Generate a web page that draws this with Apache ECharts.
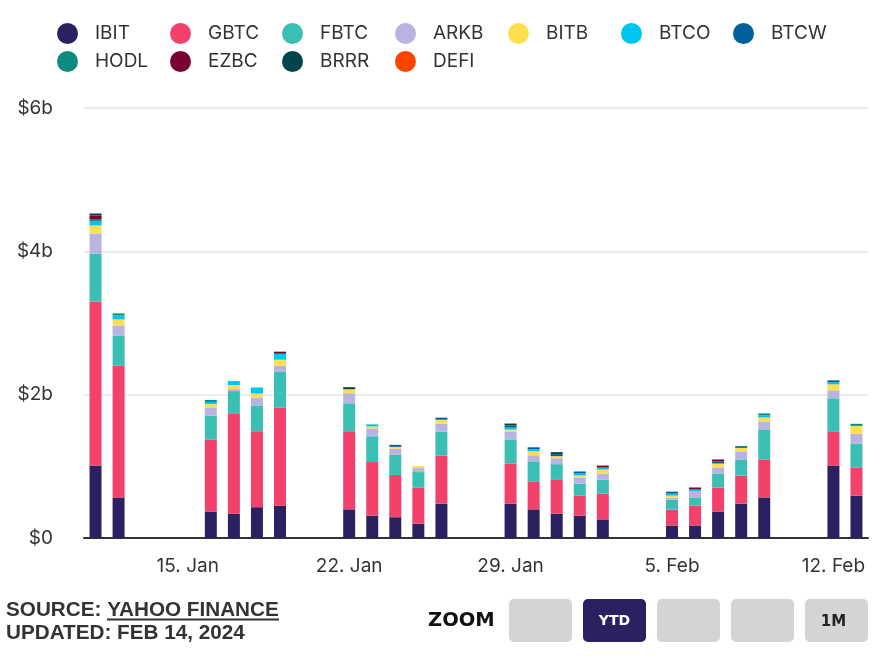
<!DOCTYPE html>
<html>
<head>
<meta charset="utf-8">
<script src="https://cdn.jsdelivr.net/npm/echarts@6/dist/echarts.min.js"></script>
<style>
html,body{margin:0;padding:0;background:#fff;}
#chart{width:892px;height:662px;}
</style>
</head>
<body>
<div id="chart"></div>
<script>
// Trading days (2024)
const dates = ['2024-01-11','2024-01-12','2024-01-16','2024-01-17','2024-01-18','2024-01-19',
  '2024-01-22','2024-01-23','2024-01-24','2024-01-25','2024-01-26',
  '2024-01-29','2024-01-30','2024-01-31','2024-02-01','2024-02-02',
  '2024-02-05','2024-02-06','2024-02-07','2024-02-08','2024-02-09',
  '2024-02-12','2024-02-13'];

// Daily trading volume, $ millions
const IBIT = [1010, 566, 370, 340, 430, 450, 400, 310, 290, 200, 480, 480, 400, 340, 310, 260, 175, 175, 370, 480, 566, 1010, 590];
const GBTC = [2290, 1840, 1000, 1400, 1060, 1370, 1090, 750, 590, 500, 670, 560, 390, 470, 280, 360, 220, 280, 335, 390, 530, 470, 390];
const FBTC = [670, 420, 335, 310, 360, 500, 390, 360, 280, 220, 335, 335, 280, 220, 170, 195, 140, 110, 195, 220, 420, 470, 335];
const ARKB = [280, 140, 110, 28, 110, 84, 140, 110, 84, 56, 110, 110, 84, 84, 84, 84, 28, 84, 84, 110, 110, 110, 140];
const BITB = [110, 84, 56, 56, 56, 84, 56, 28, 28, 28, 56, 28, 56, 28, 28, 56, 28, 0, 56, 56, 56, 84, 110];
const BTCO = [56, 56, 28, 56, 84, 84, 0, 28, 0, 0, 0, 28, 28, 0, 28, 28, 28, 28, 0, 0, 28, 28, 0];
const BTCW = [0, 0, 0, 0, 0, 0, 0, 0, 28, 0, 28, 28, 28, 28, 28, 0, 28, 0, 28, 0, 0, 28, 0];
const HODL = [28, 28, 28, 0, 0, 0, 0, 0, 0, 0, 0, 0, 0, 0, 0, 0, 0, 0, 0, 28, 28, 0, 28];
const EZBC = [56, 0, 0, 0, 0, 28, 0, 0, 0, 0, 0, 0, 0, 0, 0, 28, 0, 28, 28, 0, 0, 0, 0];
const BRRR = [28, 0, 0, 0, 0, 0, 28, 0, 0, 0, 0, 28, 0, 28, 0, 0, 0, 0, 0, 0, 0, 0, 0];
const DEFI = [0, 0, 0, 0, 0, 0, 0, 0, 0, 0, 0, 0, 0, 0, 0, 0, 0, 0, 0, 0, 0, 0, 0];

const seriesNames = ['IBIT','GBTC','FBTC','ARKB','BITB','BTCO','BTCW','HODL','EZBC','BRRR','DEFI'];
const seriesValues = [IBIT, GBTC, FBTC, ARKB, BITB, BTCO, BTCW, HODL, EZBC, BRRR, DEFI];
const colors = ['#2b2160','#f2426b','#3bbfb4','#b8b3e2','#ffde50','#00c4f1','#00619a','#0d8b7c','#790033','#00444c','#fa4400'];

// x axis ticks
const xTickDates = ['2024-01-15', '2024-01-22', '2024-01-29', '2024-02-05', '2024-02-12'];
const xTickLabels = ['15. Jan', '22. Jan', '29. Jan', '5. Feb', '12. Feb'];
// y axis ticks ($ millions)
const yTickValues = [0, 2000, 4000, 6000];
const yTickLabels = ['$0', '$2b', '$4b', '$6b'];

// calendar-day categories spanning the trading dates (time axis spacing)
const DAY = 86400000;
function ts(s) { const p = s.split('-').map(Number); return Date.UTC(p[0], p[1] - 1, p[2]); }
function iso(t) { return new Date(t).toISOString().slice(0, 10); }
const calendar = [];
for (let t = ts(dates[0]); t <= ts(dates[dates.length - 1]); t += DAY) calendar.push(iso(t));

const FONT = 'Inter, "Noto Sans", sans-serif';
const chart = echarts.init(document.getElementById('chart'), null, {renderer: 'canvas'});

const colLeft = [57, 170, 282, 395, 508, 621, 733];
const legends = seriesNames.map((n, i) => ({
  data: [n],
  left: colLeft[i % 7],
  top: i < 7 ? 23 : 51,
  icon: 'circle',
  itemWidth: 21,
  itemHeight: 21,
  padding: 0,
  textStyle: {fontFamily: FONT, fontSize: 19, color: '#333', padding: [0, 0, 0, 12]}
}));

const series = seriesNames.map((n, i) => ({
  name: n,
  type: 'bar',
  stack: 'vol',
  barWidth: 12,
  itemStyle: {color: colors[i]},
  emphasis: {disabled: true},
  data: calendar.map(c => {
    const j = dates.indexOf(c);
    return j >= 0 ? seriesValues[i][j] : '-';
  })
}));

const btnY = 599, btnH = 43, btnW = 63;
const btnX = [509, 583, 657, 731, 805];
const graphics = [];
btnX.forEach((x, i) => {
  graphics.push({type: 'rect', shape: {x: x, y: btnY, width: btnW, height: btnH, r: 5},
    style: {fill: i === 1 ? '#2b2160' : '#d4d4d4'}});
});
graphics.push({type: 'text', x: btnX[1] + btnW / 2, y: btnY + btnH / 2 + 1,
  style: {text: 'YTD', fill: '#fff', font: 'bold 14px "DejaVu Sans"', textAlign: 'center', textVerticalAlign: 'middle'}});
graphics.push({type: 'text', x: btnX[4] + btnW / 2 - 3, y: btnY + btnH / 2 + 2,
  style: {text: '1M', fill: '#222', font: 'bold 15px "DejaVu Sans"', textAlign: 'center', textVerticalAlign: 'middle'}});
graphics.push({type: 'text', x: 428, y: 621,
  style: {text: 'ZOOM', fill: '#111', font: 'bold 19.5px "DejaVu Sans"', textAlign: 'left', textVerticalAlign: 'middle'}});
graphics.push({type: 'text', x: 6, y: 610,
  style: {text: 'SOURCE: YAHOO FINANCE', fill: '#333', font: 'bold 20.7px "Liberation Sans"', textAlign: 'left', textVerticalAlign: 'middle'}});
graphics.push({type: 'rect', shape: {x: 107, y: 618.5, width: 172, height: 2}, style: {fill: '#333'}});
graphics.push({type: 'text', x: 6, y: 633,
  style: {text: 'UPDATED: FEB 14, 2024', fill: '#333', font: 'bold 20.7px "Liberation Sans"', textAlign: 'left', textVerticalAlign: 'middle'}});

chart.setOption({
  backgroundColor: '#fff',
  animation: false,
  legend: legends,
  grid: {left: 84, right: 24, top: 108, bottom: 124, containLabel: false},
  xAxis: {
    type: 'category',
    data: calendar,
    boundaryGap: true,
    splitLine: {show: false},
    axisTick: {show: false},
    axisLine: {show: true, lineStyle: {color: '#333', width: 2}},
    axisLabel: {
      interval: (idx, val) => xTickDates.indexOf(val) >= 0,
      margin: 19,
      fontFamily: FONT, fontSize: 19, color: '#333',
      formatter: v => { const k = xTickDates.indexOf(v); return k >= 0 ? xTickLabels[k] : ''; }
    }
  },
  yAxis: {
    type: 'value',
    min: 0, max: 6000, interval: 2000,
    axisLine: {show: false},
    axisTick: {show: false},
    splitLine: {lineStyle: {color: '#ececec', width: 2}},
    axisLabel: {
      margin: 31,
      padding: [5, 0, 0, 0],
      fontFamily: FONT, fontSize: 19, color: '#333',
      formatter: v => yTickLabels[yTickValues.indexOf(v)]
    }
  },
  series: series,
  graphic: graphics
});
</script>
</body>
</html>
